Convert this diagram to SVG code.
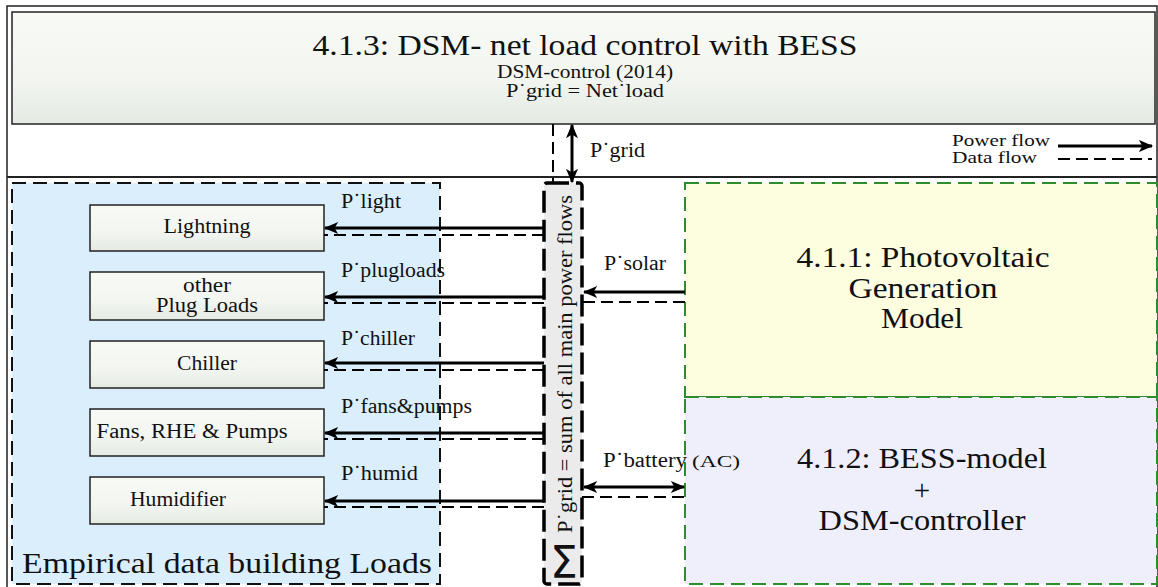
<svg xmlns="http://www.w3.org/2000/svg" width="1158" height="587" viewBox="0 0 1158 587" font-family="'Liberation Serif', serif">
<style>
text{font-family:'Liberation Serif', serif;fill:#111}
.box{stroke:#222;stroke-width:1.5;fill:url(#g)}
.pw{stroke:#000;stroke-width:3;fill:none}
.dt{stroke:#000;stroke-width:2;fill:none;stroke-dasharray:12 6}
.lbl{font-size:20px}
.bx{font-size:20px;text-anchor:middle}
.big{font-size:29px;text-anchor:middle}
</style>
<defs>
<linearGradient id="g" x1="0" y1="0" x2="0" y2="1">
<stop offset="0" stop-color="#f8faf6"/>
<stop offset="0.6" stop-color="#f2f5f0"/>
<stop offset="1" stop-color="#e5eae3"/>
</linearGradient>
<marker id="ah" viewBox="0 0 12 10" refX="11" refY="5" markerWidth="5" markerHeight="4" orient="auto-start-reverse" markerUnits="strokeWidth">
<path d="M0,0 L12,5 L0,10 L3,5 Z" fill="#000"/>
</marker>
</defs>

<rect x="7" y="6" width="1150" height="590" fill="#fff" stroke="#222" stroke-width="1.5"/>
<line x1="7" y1="177" x2="1157" y2="177" stroke="#222" stroke-width="1.8"/>

<g id="dsm">
<rect x="12" y="12" width="1143" height="112" class="box"/>
<text x="585" y="55" font-size="30" text-anchor="middle" textLength="545" lengthAdjust="spacingAndGlyphs">4.1.3: DSM- net load control with BESS</text>
<text x="585" y="78" font-size="19" text-anchor="middle" textLength="176" lengthAdjust="spacingAndGlyphs">DSM-control (2014)</text>
<text x="585" y="97" font-size="19" text-anchor="middle" textLength="158" lengthAdjust="spacingAndGlyphs">P˙grid = Net˙load</text>
</g>

<g id="legend">
<text x="952" y="146" font-size="16" textLength="98" lengthAdjust="spacingAndGlyphs">Power flow</text>
<text x="952" y="163" font-size="16" textLength="85" lengthAdjust="spacingAndGlyphs">Data flow</text>
<line x1="1058" y1="146" x2="1152" y2="146" class="pw" marker-end="url(#ah)"/>
<line x1="1058" y1="159" x2="1152" y2="159" class="dt" stroke-dasharray="18 9"/>
</g>

<g id="loads">
<rect x="12" y="183" width="428" height="401" fill="#dbeefc" stroke="#111" stroke-width="2" stroke-dasharray="14 7"/>
<text x="227" y="573" font-size="30" text-anchor="middle" textLength="410" lengthAdjust="spacingAndGlyphs">Empirical data building Loads</text>
</g>

<g id="lightning">
<rect x="90" y="205" width="234" height="46" class="box"/>
<text x="207" y="233" class="bx" textLength="87" lengthAdjust="spacingAndGlyphs">Lightning</text>
</g>
<g id="plugloads">
<rect x="90" y="272" width="234" height="48" class="box"/>
<text x="207" y="292" class="bx" textLength="48" lengthAdjust="spacingAndGlyphs">other</text>
<text x="207" y="312" class="bx" textLength="102" lengthAdjust="spacingAndGlyphs">Plug Loads</text>
</g>
<g id="chiller">
<rect x="90" y="341" width="234" height="47" class="box"/>
<text x="207" y="370" class="bx" textLength="60" lengthAdjust="spacingAndGlyphs">Chiller</text>
</g>
<g id="fans">
<rect x="90" y="409" width="234" height="47" class="box"/>
<text x="192" y="438" class="bx" textLength="191" lengthAdjust="spacingAndGlyphs">Fans, RHE &amp; Pumps</text>
</g>
<g id="humidifier">
<rect x="90" y="477" width="234" height="47" class="box"/>
<text x="178" y="506" class="bx" textLength="96" lengthAdjust="spacingAndGlyphs">Humidifier</text>
</g>

<g id="pv">
<rect x="685" y="183" width="472" height="214" fill="#fdfde0" stroke="#2e8b2e" stroke-width="2" stroke-dasharray="14 7"/>
<text x="923" y="267" class="big" textLength="253" lengthAdjust="spacingAndGlyphs">4.1.1: Photovoltaic</text>
<text x="923" y="298" class="big" textLength="149" lengthAdjust="spacingAndGlyphs">Generation</text>
<text x="922" y="328" class="big" textLength="82" lengthAdjust="spacingAndGlyphs">Model</text>
</g>

<g id="bess">
<rect x="685" y="397" width="472" height="187" fill="#efeffb" stroke="#2e8b2e" stroke-width="2" stroke-dasharray="14 7"/>
<text x="922" y="468" class="big" textLength="250" lengthAdjust="spacingAndGlyphs">4.1.2: BESS-model</text>
<text x="922" y="500" class="big">+</text>
<text x="922" y="530" class="big" textLength="207" lengthAdjust="spacingAndGlyphs">DSM-controller</text>
</g>

<g id="connectors">
<line x1="553" y1="124" x2="553" y2="183" class="dt" stroke-width="2.5" stroke-dasharray="16 6"/>
<line x1="572" y1="125" x2="572" y2="182" class="pw" marker-start="url(#ah)" marker-end="url(#ah)"/>
<text x="590" y="157" class="lbl" textLength="55" lengthAdjust="spacingAndGlyphs">P˙grid</text>

<line x1="544" y1="228" x2="325" y2="228" class="pw" marker-end="url(#ah)"/>
<line x1="544" y1="235" x2="324" y2="235" class="dt"/>
<text x="341" y="208" class="lbl" textLength="60" lengthAdjust="spacingAndGlyphs">P˙light</text>

<line x1="544" y1="297" x2="325" y2="297" class="pw" marker-end="url(#ah)"/>
<line x1="544" y1="303" x2="324" y2="303" class="dt"/>
<text x="341" y="277" class="lbl" textLength="104" lengthAdjust="spacingAndGlyphs">P˙plugloads</text>

<line x1="544" y1="363" x2="325" y2="363" class="pw" marker-end="url(#ah)"/>
<line x1="544" y1="370" x2="324" y2="370" class="dt"/>
<text x="341" y="345" class="lbl" textLength="74" lengthAdjust="spacingAndGlyphs">P˙chiller</text>

<line x1="544" y1="433" x2="325" y2="433" class="pw" marker-end="url(#ah)"/>
<line x1="544" y1="439" x2="324" y2="439" class="dt"/>
<text x="341" y="413" class="lbl" textLength="131" lengthAdjust="spacingAndGlyphs">P˙fans&amp;pumps</text>

<line x1="544" y1="501" x2="325" y2="501" class="pw" marker-end="url(#ah)"/>
<line x1="544" y1="507" x2="324" y2="507" class="dt"/>
<text x="341" y="480" class="lbl" textLength="77" lengthAdjust="spacingAndGlyphs">P˙humid</text>

<line x1="685" y1="292" x2="584" y2="292" class="pw" marker-end="url(#ah)"/>
<line x1="685" y1="302" x2="582" y2="302" class="dt"/>
<text x="604" y="270" class="lbl" textLength="62" lengthAdjust="spacingAndGlyphs">P˙solar</text>

<line x1="584" y1="487" x2="684" y2="487" class="pw" marker-start="url(#ah)" marker-end="url(#ah)"/>
<line x1="582" y1="497" x2="685" y2="497" class="dt"/>
<text x="603" y="467" class="lbl" textLength="84" lengthAdjust="spacingAndGlyphs">P˙battery</text>
<text x="692" y="467" font-size="17" textLength="48" lengthAdjust="spacingAndGlyphs">(AC)</text>
</g>

<g id="sum">
<rect x="544" y="183" width="38" height="401" rx="3" fill="#ebebeb" stroke="#000" stroke-width="3.5" stroke-dasharray="22 7"/>
<text transform="translate(572,533) rotate(-90)" font-size="20" textLength="338" lengthAdjust="spacingAndGlyphs">P˙grid = sum of all main power flows</text>
<text x="564" y="578" font-size="44" text-anchor="middle" style="font-family:'DejaVu Sans',sans-serif">Σ</text>
</g>
</svg>
